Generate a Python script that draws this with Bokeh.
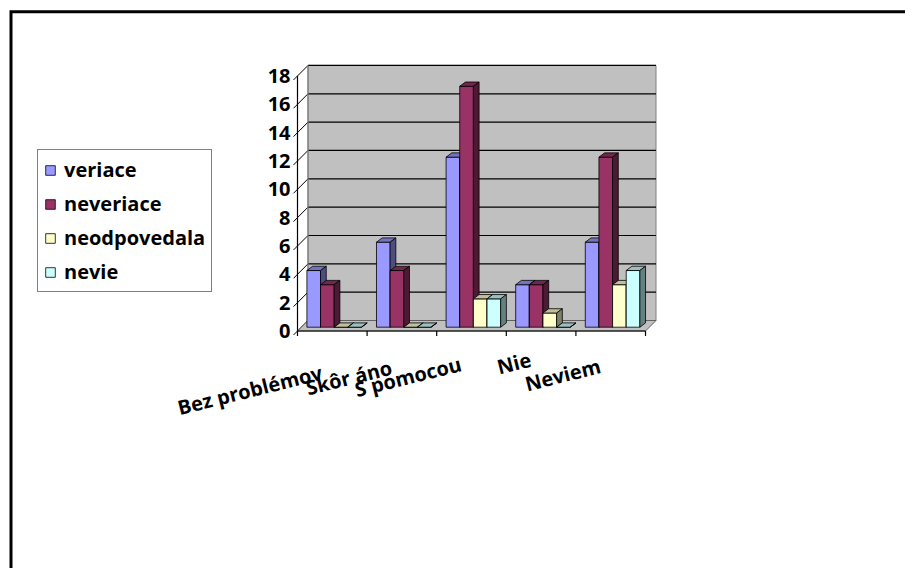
from bokeh.plotting import figure
from bokeh.models import Range1d, Legend, LegendItem
from bokeh.core.properties import value
from bokeh.embed import file_html
from bokeh.resources import INLINE

# ---- data ----
categories = ["Bez problémov", "Skôr áno", "S pomocou", "Nie", "Neviem"]
series_names = ["veriace", "neveriace", "neodpovedala", "nevie"]
veriace = [4, 6, 12, 3, 6]
neveriace = [3, 4, 17, 3, 12]
neodpovedala = [0, 0, 2, 1, 3]
nevie = [0, 0, 2, 0, 4]
y_ticks = [0, 2, 4, 6, 8, 10, 12, 14, 16, 18]

series_values = [veriace, neveriace, neodpovedala, nevie]

# ---- styling ----
front_colors = ["#9999FF", "#993366", "#FFFFCC", "#CCFFFF"]
top_colors = ["#7373BF", "#73264D", "#BFBF99", "#99BFBF"]
side_colors = ["#4D4D80", "#4D1A33", "#808066", "#668080"]
WALL_COLOR = "#C0C0C0"
FONT_NAME = "Open Sans"
FONT = value(FONT_NAME)
FONT_SIZE = "20px"

# ---- canvas and scale layout (pixels) ----
W, H = 905, 568
X0, U = 297.0, 69.6      # pixel of category origin, pixels per category
Y0, V = 330.5, 14.17     # pixel of value 0 (from top), pixels per value unit


def dx(px):
    """pixel length -> category units"""
    return px / U


def dy(px):
    """pixel length -> value units"""
    return px / V


def sx(px):
    """screen x -> data x"""
    return (px - X0) / U


def sy(py):
    """screen y (from top) -> data y"""
    return (Y0 - py) / V


WALL_DX, WALL_DY = dx(10.5), dy(10.5)   # depth of the 3D box
BAR_DX, BAR_DY = dx(5.7), dy(4.3)       # depth of each column
BAR_W = 0.196                           # column width in category units
GROUP_OFF = 0.135                       # first column offset inside a category
BAR_LIFT = dy(3.8)                      # columns stand a little into the depth
n_cat = len(categories)
y_top = y_ticks[-1]

p = figure(width=W, height=H, output_backend="svg", toolbar_location=None,
           x_range=Range1d(sx(0), sx(W)), y_range=Range1d(sy(H), sy(0)),
           x_axis_type=None, y_axis_type=None, min_border=0, title=None)
p.outline_line_color = None
p.background_fill_color = "white"
p.border_fill_color = "white"

# ---- back wall ----
p.patch([WALL_DX, n_cat + WALL_DX, n_cat + WALL_DX, WALL_DX],
        [WALL_DY, WALL_DY, y_top + WALL_DY, y_top + WALL_DY],
        fill_color=WALL_COLOR, line_color="#808080", line_width=1)

# gridlines on the back wall and along the side wall, with slanted ticks
tick_len = dx(4)
slope = WALL_DY / WALL_DX
p.segment(x0=[WALL_DX] * len(y_ticks), y0=[t + WALL_DY for t in y_ticks],
          x1=[n_cat + WALL_DX] * len(y_ticks), y1=[t + WALL_DY for t in y_ticks],
          line_color="black", line_width=1.2)
p.segment(x0=[-tick_len] * len(y_ticks), y0=[t - tick_len * slope for t in y_ticks],
          x1=[WALL_DX] * len(y_ticks), y1=[t + WALL_DY for t in y_ticks],
          line_color="black", line_width=1)
# back wall left edge
p.segment(x0=[WALL_DX], y0=[WALL_DY], x1=[WALL_DX], y1=[y_top + WALL_DY],
          line_color="#808080", line_width=1.2)

# ---- floor ----
p.patch([0, n_cat, n_cat + WALL_DX, WALL_DX], [0, 0, WALL_DY, WALL_DY],
        fill_color=WALL_COLOR, line_color="#606060", line_width=1)

# ---- value axis and category axis lines ----
p.segment(x0=[0], y0=[0], x1=[0], y1=[y_top], line_color="black", line_width=1.2)
p.segment(x0=[0], y0=[0], x1=[n_cat], y1=[0], line_color="black", line_width=1.2)
p.segment(x0=list(range(n_cat + 1)), y0=[0] * (n_cat + 1),
          x1=list(range(n_cat + 1)), y1=[-dy(5)] * (n_cat + 1),
          line_color="black", line_width=1.2)

# ---- 3D columns ----
legend_items = []
for k, (name, vals) in enumerate(zip(series_names, series_values)):
    lefts = [i + GROUP_OFF + k * BAR_W for i in range(n_cat)]
    rights = [l + BAR_W for l in lefts]
    bottoms = [BAR_LIFT] * n_cat
    tops = [v + BAR_LIFT for v in vals]

    front = p.quad(left=lefts, right=rights, bottom=bottoms, top=tops,
                   fill_color=front_colors[k], line_color="black", line_width=0.8)
    top_xs = [[l, r, r + BAR_DX, l + BAR_DX] for l, r in zip(lefts, rights)]
    top_ys = [[t, t, t + BAR_DY, t + BAR_DY] for t in tops]
    p.patches(top_xs, top_ys, fill_color=top_colors[k], line_color="black", line_width=0.8)
    side_xs = [[r, r + BAR_DX, r + BAR_DX, r] for r in rights]
    side_ys = [[b, b + BAR_DY, t + BAR_DY, t] for b, t in zip(bottoms, tops)]
    p.patches(side_xs, side_ys, fill_color=side_colors[k], line_color="black", line_width=0.8)
    legend_items.append(LegendItem(label=name, renderers=[front]))

# ---- tick labels ----
p.text(x=[-dx(7)] * len(y_ticks), y=y_ticks, text=[str(t) for t in y_ticks],
       text_font=FONT, text_font_style="bold", text_font_size=FONT_SIZE,
       text_align="right", text_baseline="middle", text_color="black")

# category labels, rotated, right end just left of each category centre
label_drop_px = [41, 36, 32.5, 28, 34.5]
p.text(x=[i + 0.5 - dx(10.5) for i in range(n_cat)],
       y=[-dy(d) for d in label_drop_px], text=categories,
       angle=14, angle_units="deg",
       text_font=FONT, text_font_style="bold", text_font_size=FONT_SIZE,
       text_align="right", text_baseline="alphabetic", text_color="black")

# ---- chart area border (top and left edges) ----
p.line(x=[sx(10.5), sx(10.5), sx(W + 10)], y=[sy(H + 10), sy(11.3), sy(11.3)],
       line_color="black", line_width=3, line_join="miter")

# ---- legend ----
legend = Legend(items=legend_items, location=(37, H - 292))
legend.border_line_color = "black"
legend.border_line_width = 1
legend.background_fill_color = "white"
legend.background_fill_alpha = 1
legend.padding = 6
legend.spacing = 7
legend.margin = 0
legend.glyph_width = 12
legend.glyph_height = 12
legend.label_standoff = 8
legend.label_height = 24
legend.label_text_font = FONT_NAME
legend.label_text_font_style = "bold"
legend.label_text_font_size = FONT_SIZE
legend.label_text_baseline = "middle"
legend.label_text_color = "black"
p.add_layout(legend)

open("out.html", "w").write(file_html(p, INLINE))
